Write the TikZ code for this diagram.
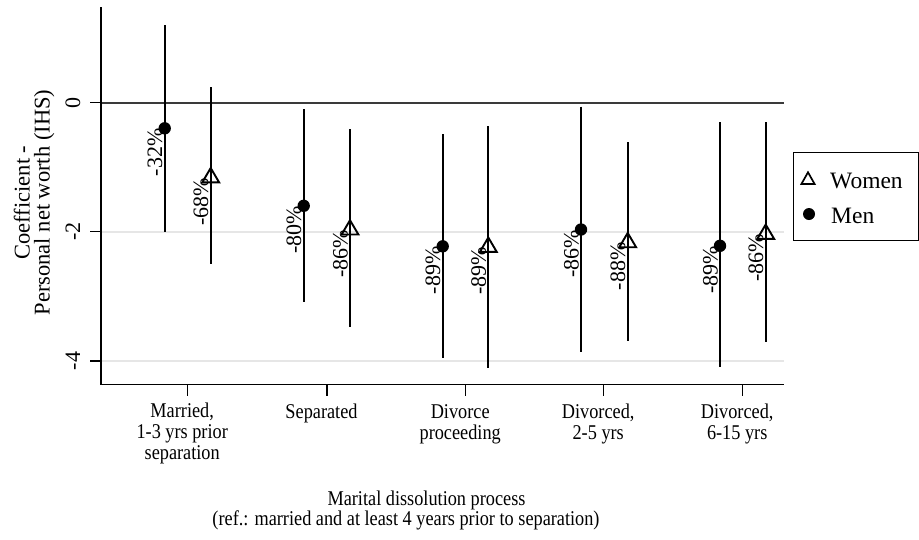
\documentclass[tikz,border=0pt]{standalone}
\usepackage{fontspec}
\setmainfont{Liberation Serif}
\newfontfamily\condfont{Liberation Serif}[FakeStretch=0.87]
\definecolor{gridc}{HTML}{E6E6E6}
\definecolor{zeroc}{HTML}{3A3A3A}
\tikzset{
  axisline/.style={line width=1.5pt, black},
  cibar/.style={line width=1.7pt, black},
  womenmark/.style={line width=1.9pt, black, line join=miter},
  menmark/.style={fill=black, draw=none},
  pctlabel/.style={rotate=90, anchor=base east, inner sep=0pt, font=\fontsize{22}{22}\selectfont},
  ytick/.style={rotate=90, anchor=base, inner sep=0pt, font=\fontsize{22}{22}\selectfont},
  xticklab/.style={anchor=base, align=center, inner sep=0pt, font=\condfont\fontsize{21}{21}\selectfont},
  titlelab/.style={anchor=base, inner sep=0pt, font=\condfont\fontsize{21}{21}\selectfont},
  ytitle/.style={rotate=90, anchor=base, inner sep=0pt, font=\fontsize{22.5}{22.5}\selectfont},
  legtext/.style={anchor=base west, inner sep=0pt, font=\fontsize{23.5}{23.5}\selectfont},
}
\begin{document}
\begin{tikzpicture}[x=1pt, y=-1pt]
\useasboundingbox (0,0) rectangle (919,539);
% grid and zero line
\draw[gridc, line width=2pt] (101,231.7) -- (784,231.7);
\draw[gridc, line width=2pt] (101,361) -- (784,361);
\draw[zeroc, line width=2.3pt] (101,102.7) -- (784,102.7);
% axes
\coordinate (ytop) at (101,7);
\coordinate (origin) at (101,384.3);
\coordinate (xend) at (784,384.3);
\draw[axisline] (ytop) -- (origin) -- (xend);
% y ticks
\foreach \yy/\lab in {102.7/0, 231.7/-2, 361/-4}{
  \draw[axisline] (90,\yy) -- (101,\yy);
  \node[ytick] at (80,\yy) {\lab};
}
% x ticks (node base = baseline of last line)
\foreach \xx/\n/\lab in {187.7/2/{Married,\\1-3 yrs prior\\separation}, 327/0/Separated, 465.7/1/{Divorce\\proceeding}, 603.7/1/{Divorced,\\2-5 yrs}, 742.7/1/{Divorced,\\6-15 yrs}}{
  \draw[axisline] (\xx,384.3) -- (\xx,396);
  \node[xticklab] at (\xx-5.5,418.5+20.5*\n) {\lab};
}
% axis titles
\node[titlelab] (xt1) at (426.5,505) {Marital dissolution process};
\node[titlelab] (xt2) at (406,525.5) {(ref.: married and at least 4 years prior to separation)};
\node[ytitle] (yt1) at (29.5,202.5) {Coefficient -};
\node[ytitle] (yt2) at (49.5,202.5) {Personal net worth (IHS)};
% men
\foreach \x/\p/\t/\b/\l in {164.7/128.3/25/231.7/-32\%, 303.7/205.8/109.3/302/-80\%, 442.7/246.3/134/357.5/-89\%, 581/229.5/106.7/351.7/-86\%, 720/245.8/122.3/367.3/-89\%}{
  \draw[cibar] (\x,\t) -- (\x,\b);
  \fill[menmark] (\x,\p) circle[radius=6.2pt];
  \node[pctlabel] at (\x-2.5,\p) {\l};
}
% women
\foreach \x/\p/\t/\b/\l in {210.7/177.5/87.3/264/-68\%, 350/229.7/129.3/327/-86\%, 488.3/247/126/368/-89\%, 627.7/242.4/142.3/340.7/-88\%, 765.7/234/122.3/341.7/-86\%}{
  \draw[cibar] (\x,\t) -- (\x,\b);
  \draw[womenmark] (\x,\p-9.5) -- (\x+8.4,\p+4.8) -- (\x-8.4,\p+4.8) -- cycle;
  \node[pctlabel] at (\x-2.5,\p) {\l};
}
% legend
\node[draw=black, line width=1pt, minimum width=125.8pt, minimum height=88.5pt, anchor=north west, inner sep=0pt] (legbox) at (792.5,151.5) {};
\draw[line width=1.7pt, line join=miter] (808,172.3) -- (814.6,184) -- (801.4,184) -- cycle;
\node[legtext] (legw) at (830,188.5) {Women};
\fill (809,214) circle[radius=6pt];
\node[legtext] (legm) at (831,223.5) {Men};
\end{tikzpicture}
\end{document}
